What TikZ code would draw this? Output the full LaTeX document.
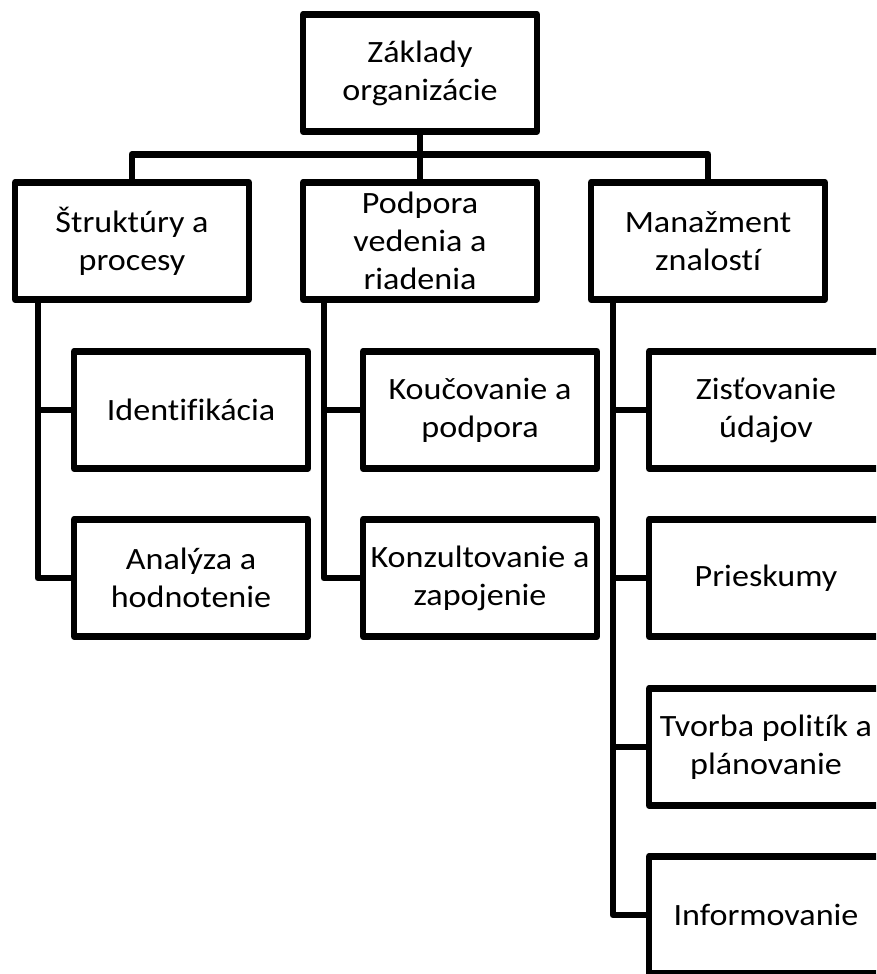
\documentclass[tikz,border=0pt]{standalone}
\usepackage{fontspec}
\setmainfont{Carlito}[Ligatures=NoCommon,FakeStretch=1.1]
\usetikzlibrary{calc,positioning}
\newcommand{\branch}[3]{%
  \coordinate (#1) at ($(#2.south west)+(#3,0)$);}

\begin{document}
\begin{tikzpicture}[x=1pt,y=-1pt,
  box/.style={draw,line width=6.5pt,line join=round,minimum width=234pt,
    minimum height=117pt,inner sep=1pt,align=center,
    font=\fontsize{31}{38}\selectfont},
  link/.style={line width=6.5pt,line join=round}]
  \useasboundingbox (0,0) rectangle (876,974);
  \clip (0,0) rectangle (876,974);
  \fill[white] (0,0) rectangle (876,974);
  \node[box] (zaklad) at (420,73) {Základy\\organizácie};
  \node[box] (struktury) at (132,241) {Štruktúry a\\procesy};
  \node[box] (podpora) at (420,241) {Podpora\\vedenia a\\riadenia};
  \node[box] (manazment) at (708,241) {Manažment\\znalostí};
  \node[box] (identif) at (191,410) {Identifikácia};
  \node[box] (analyza) at (191,578) {Analýza a\\hodnotenie};
  \node[box] (koucovanie) at (480,410) {Koučovanie a\\podpora};
  \node[box] (konzult) at (480,578) {Konzultovanie a\\zapojenie};
  \node[box] (zistovanie) at (766,410) {Zisťovanie\\údajov};
  \node[box] (prieskumy) at (766,578) {Prieskumy};
  \node[box] (tvorba) at (766,747) {Tvorba politík a\\plánovanie};
  \node[box] (inform) at (766,915) {Informovanie};
  \draw[link] (zaklad.south) -- (podpora.north);
  \draw[link] (struktury.north) -- ++(0,-25) -| (manazment.north);
  \branch{t1}{struktury}{26}
  \branch{t2}{podpora}{24}
  \branch{t3}{manazment}{25}
  \draw[link] (t1) |- (analyza.west);
  \draw[link] (identif.west) -- (identif.west -| t1);
  \draw[link] (t2) |- (konzult.west);
  \draw[link] (koucovanie.west) -- (koucovanie.west -| t2);
  \draw[link] (t3) |- (inform.west);
  \draw[link] (zistovanie.west) -- (zistovanie.west -| t3);
  \draw[link] (prieskumy.west) -- (prieskumy.west -| t3);
  \draw[link] (tvorba.west) -- (tvorba.west -| t3);
\end{tikzpicture}
\end{document}
